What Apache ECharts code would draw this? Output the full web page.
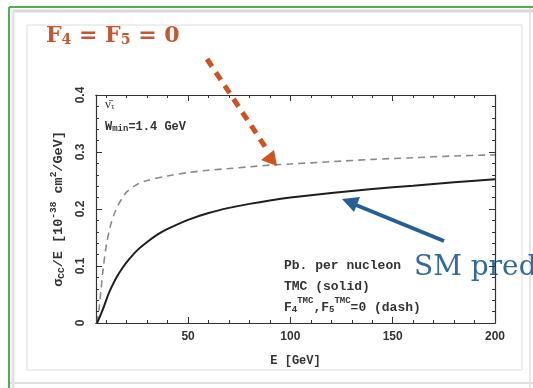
<!DOCTYPE html>
<html><head><meta charset="utf-8">
<script src="https://cdn.jsdelivr.net/npm/echarts@6/dist/echarts.min.js"></script>
<style>html,body{margin:0;padding:0;background:#fff}#c{width:533px;height:388px}</style>
</head><body><div id="c"></div>
<script>
const xMajorTicks = [50, 100, 150, 200];
const xMinorTicks = [10,20,30,40,50,60,70,80,90,100,110,120,130,140,150,160,170,180,190,200];
const solidE = [5.5,7,9,11,13,15,18,21,25,30,35,40,50,60,70,80,90,100,120,140,160,180,200];
const solidV = [0,0.012,0.03,0.05,0.066,0.08,0.097,0.111,0.127,0.142,0.155,0.165,0.181,0.193,0.202,0.209,0.215,0.22,0.228,0.235,0.241,0.247,0.252];
const dashE = [5.5,6.5,7.5,8.5,10,12,14,16,18,20,25,30,40,50,60,70,80,90,100,120,140,160,180,200];
const dashV = [0,0.025,0.06,0.095,0.135,0.17,0.192,0.208,0.22,0.23,0.243,0.25,0.258,0.264,0.268,0.271,0.274,0.277,0.279,0.283,0.287,0.29,0.293,0.295];

const chart = echarts.init(document.getElementById('c'), null, {renderer:'canvas'});
const zip = (a,b)=>a.map((v,i)=>[v,b[i]]);
const mono = '"Liberation Mono", "DejaVu Sans Mono", monospace';
const axLine = {show:true, lineStyle:{color:'#333', width:1.2}};
function xAx(pos, ticks, len, labels){
  return {type:'value', position:pos, min:5, max:200, gridIndex:0,
    axisLine:axLine, splitLine:{show:false},
    axisTick:{show:true, inside:true, length:len, customValues:ticks, lineStyle:{color:'#333'}},
    axisLabel: labels ? {show:true, customValues:xMajorTicks, color:'#333', fontFamily:'Liberation Sans', fontWeight:'bold', fontSize:12, margin:8} : {show:false},
    name: labels ? 'E [GeV]' : '', nameLocation:'middle', nameGap:32,
    nameTextStyle:{fontFamily:mono, fontWeight:'bold', fontSize:12, color:'#333'}};
}
const option = {
  backgroundColor:'#fff',
  animation:false,
  grid:{left:96, right:38, top:95, bottom:65, containLabel:false},
  xAxis:[
    xAx('bottom', xMajorTicks, 6, true),
    xAx('bottom', xMinorTicks, 3, false),
    xAx('top', xMinorTicks, 3, false),
    xAx('top', xMajorTicks, 6, false)
  ],
  yAxis:[
    {type:'value', min:0, max:0.4, interval:0.1, position:'left',
     axisLine:axLine, splitLine:{show:false},
     axisTick:{show:true, inside:true, length:6, lineStyle:{color:'#333'}},
     minorTick:{show:true, splitNumber:5, length:3, lineStyle:{color:'#333'}},
     axisLabel:{show:true, rotate:90, color:'#333', fontFamily:'Liberation Sans', fontWeight:'bold', fontSize:12, margin:9,
       formatter:v=>v===0?'0':v.toFixed(1)},
     name:'{n|σ}{sub|CC}{n|/E [10}{sup|-38}{n| cm}{sup|2}{n|/GeV]}', nameLocation:'middle', nameGap:28, nameRotate:90,
     nameTextStyle:{rich:{
       n:{fontFamily:mono, fontWeight:'bold', fontSize:13.5, color:'#333', verticalAlign:'middle', lineHeight:18},
       sub:{fontFamily:mono, fontWeight:'bold', fontSize:9.5, color:'#333', verticalAlign:'bottom', lineHeight:18},
       sup:{fontFamily:mono, fontWeight:'bold', fontSize:9.5, color:'#333', verticalAlign:'top', lineHeight:18}}}},
    {type:'value', min:0, max:0.4, interval:0.1, position:'right',
     axisLine:axLine, splitLine:{show:false},
     axisTick:{show:true, inside:true, length:6, lineStyle:{color:'#333'}},
     minorTick:{show:true, splitNumber:5, length:3, lineStyle:{color:'#333'}},
     axisLabel:{show:false}}
  ],
  series:[
    {type:'line', xAxisIndex:0, yAxisIndex:0, data:zip(dashE,dashV), smooth:0.3, symbol:'none',
     lineStyle:{color:'#8a8a8a', width:1.6, type:[7,5]}},
    {type:'line', xAxisIndex:0, yAxisIndex:0, data:zip(solidE,solidV), smooth:0.3, symbol:'none',
     lineStyle:{color:'#1e1e1e', width:2}}
  ],
  graphic:[
    // slide frame
    {type:'rect', shape:{x:27,y:25,width:495,height:345}, style:{fill:'none', stroke:'#dcdcdc', lineWidth:1}, z:0, silent:true},
    {type:'line', shape:{x1:530,y1:7,x2:530,y2:388}, style:{stroke:'#e6e6e6', lineWidth:2}, silent:true},
    {type:'line', shape:{x1:9,y1:383,x2:533,y2:383}, style:{stroke:'#e0e0e0', lineWidth:2}, silent:true},
    {type:'line', shape:{x1:13,y1:11,x2:533,y2:11}, style:{stroke:'#d8d8d8', lineWidth:3}, silent:true},
    {type:'line', shape:{x1:13,y1:11,x2:13,y2:388}, style:{stroke:'#e4e4e4', lineWidth:3}, silent:true},
    {type:'line', shape:{x1:9,y1:7,x2:533,y2:7}, style:{stroke:'#4cb04c', lineWidth:2}, silent:true},
    {type:'line', shape:{x1:9,y1:7,x2:9,y2:388}, style:{stroke:'#4cb04c', lineWidth:2}, silent:true},
    // title
    {type:'text', left:46, top:25, style:{text:'{a|F}{s|4}{a| = F}{s|5}{a| = 0}', rich:{
      a:{fontFamily:'DejaVu Serif', fontWeight:'bold', fontSize:22, fill:'#c8552d', verticalAlign:'bottom', lineHeight:26},
      s:{fontFamily:'DejaVu Serif', fontWeight:'bold', fontSize:14, fill:'#c8552d', verticalAlign:'bottom', lineHeight:20}}}},
    // in-plot labels
    {type:'text', left:105, top:98, style:{text:'{a|ν̄}{s|τ}', rich:{
      a:{fontFamily:'Liberation Serif', fontSize:13, fill:'#333', verticalAlign:'bottom', lineHeight:15},
      s:{fontFamily:'Liberation Serif', fontSize:9, fill:'#333', verticalAlign:'bottom', lineHeight:10}}}},
    {type:'text', left:105, top:121, style:{text:'{a|W}{s|min}{a|=1.4 GeV}', rich:{
      a:{fontFamily:mono, fontWeight:'bold', fontSize:12, fill:'#333', verticalAlign:'bottom', lineHeight:15},
      s:{fontFamily:mono, fontWeight:'bold', fontSize:9, fill:'#333', verticalAlign:'bottom', lineHeight:11}}}},
    {type:'text', left:284, top:259, style:{text:'Pb. per nucleon', font:'bold 13px "Liberation Mono"', fill:'#333'}},
    {type:'text', left:284, top:280, style:{text:'TMC (solid)', font:'bold 13px "Liberation Mono"', fill:'#333'}},
    {type:'text', left:284, top:296, style:{text:'{a|F}{b|4}{s|TMC}{a|,F}{b|5}{s|TMC}{a|=0 (dash)}', rich:{
      a:{fontFamily:mono, fontWeight:'bold', fontSize:13, fill:'#333', verticalAlign:'bottom', lineHeight:18},
      b:{fontFamily:mono, fontWeight:'bold', fontSize:9, fill:'#333', verticalAlign:'bottom', lineHeight:13},
      s:{fontFamily:mono, fontWeight:'bold', fontSize:9, fill:'#333', verticalAlign:'top', lineHeight:18}}}},
    // SM pred
    {type:'text', left:414, top:254, style:{text:'SM pred', font:'28px "DejaVu Serif"', fill:'#2f6aa3'}},
    // orange arrow
    {type:'line', shape:{x1:207,y1:59,x2:268,y2:151}, style:{stroke:'#d0531f', lineWidth:5, lineDash:[9,7]}, z:100},
    {type:'polygon', shape:{points:[[277,166],[261,160],[274,150]]}, style:{fill:'#d0531f'}, z:100},
    // blue arrow
    {type:'line', shape:{x1:444,y1:241,x2:356,y2:205}, style:{stroke:'#245f96', lineWidth:4}, z:100},
    {type:'polygon', shape:{points:[[342,199],[360,197],[354,212]]}, style:{fill:'#245f96'}, z:100}
  ]
};
chart.setOption(option);
</script></body></html>
